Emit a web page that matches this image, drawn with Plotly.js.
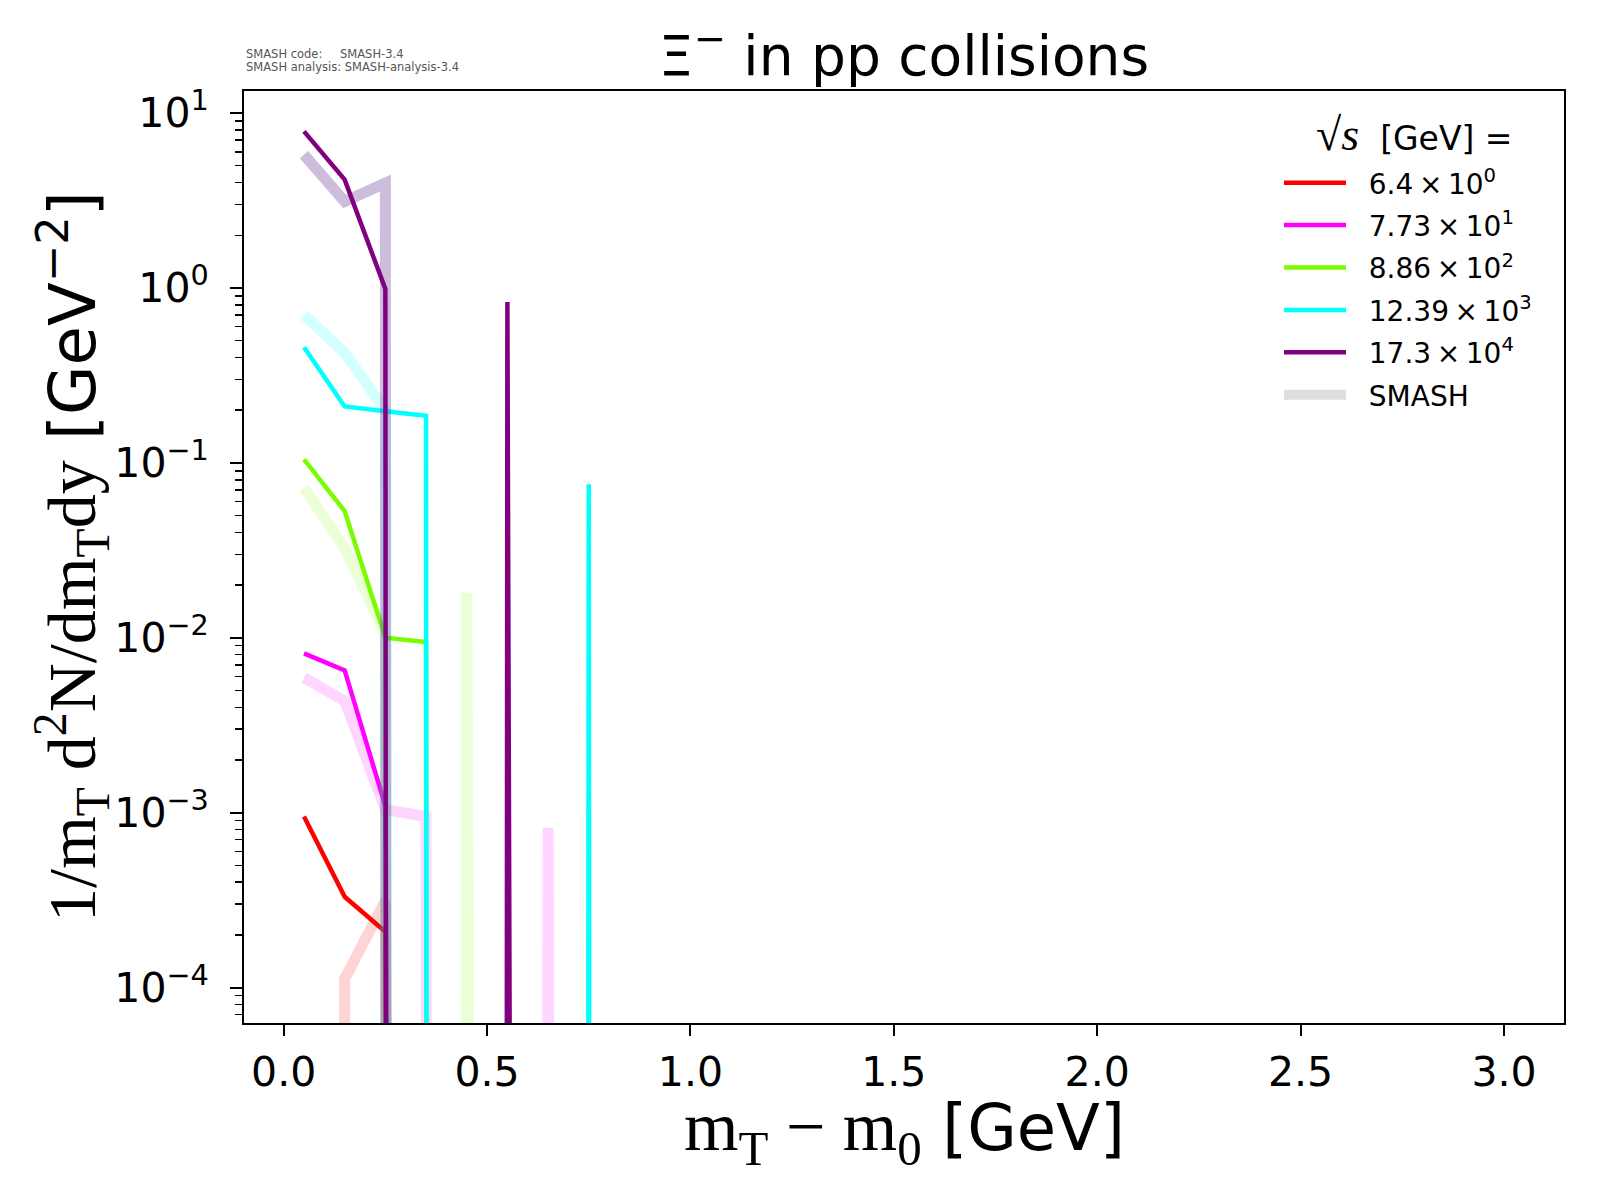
<!DOCTYPE html>
<html>
<head>
<meta charset="utf-8">
<script src="https://cdn.plot.ly/plotly-3.0.1.min.js"></script>
<style>
  body { margin: 0; background: white; }
  #chart { width: 1600px; height: 1200px; }
</style>
</head>
<body>
<div id="chart"></div>
<script>
// m_T - m_0 bin centres [GeV]
let mt = [0.05, 0.15, 0.25, 0.35, 0.45, 0.55, 0.65, 0.75, 0.85, 0.95];

let energyLabels = [
    "6.4\u2009×\u200910<sup>0</sup>",
    "7.73\u2009×\u200910<sup>1</sup>",
    "8.86\u2009×\u200910<sup>2</sup>",
    "12.39\u2009×\u200910<sup>3</sup>",
    "17.3\u2009×\u200910<sup>4</sup>"
];
let colors = ["#ff0000", "#ff00ff", "#7cfc00", "#00ffff", "#800080"];
let smashColors = ["rgba(255,0,0,0.17)", "rgba(255,0,255,0.16)", "rgba(124,252,0,0.16)",
                   "rgba(0,255,255,0.17)", "rgba(100,50,150,0.32)"];

// data (thin lines)
let data64   = [0.00095, 0.00033, 0.000208, 0, 0, 0, 0, 0, 0, 0];
let data773  = [0.00813, 0.0065, 0.00109, 0, 0, 0, 0, 0, 0, 0];
let data886  = [0.1045, 0.0529, 0.0100, 0.00944, 0, 0, 0, 0, 0, 0];
let data1239 = [0.458, 0.21, 0.197, 0.186, 0, 0, 0, 0.0753, 0, 0];
let data173  = [7.85, 4.16, 0.986, 0, 0, 0.83, 0, 0, 0, 0];

// SMASH (thick, translucent)
let smash64   = [0, 0.000112, 0.000313, 0, 0, 0, 0, 0, 0, 0];
let smash773  = [0.0059, 0.00435, 0.00104, 0.00095, 0, 0, 0.00082, 0, 0, 0];
let smash886  = [0.072, 0.0327, 0.0105, 0, 0.0181, 0, 0, 0, 0, 0];
let smash1239 = [0.70, 0.425, 0.2, 0, 0, 0, 0, 0, 0, 0];
let smash173  = [5.78, 3.12, 3.98, 0, 0, 0, 0, 0, 0, 0];

let dataSets = [data64, data773, data886, data1239, data173];
let smashSets = [smash64, smash773, smash886, smash1239, smash173];

let yTickVals = [1e-4, 1e-3, 1e-2, 1e-1, 1, 10];
let yTickText = ["10<sup>−4</sup>", "10<sup>−3</sup>", "10<sup>−2</sup>", "10<sup>−1</sup>", "10<sup>0</sup>", "10<sup>1</sup>"];
let xTickVals = [0, 0.5, 1, 1.5, 2, 2.5, 3];
let xTickText = ["0.0", "0.5", "1.0", "1.5", "2.0", "2.5", "3.0"];

// zero bins on a log axis: clip far below, like matplotlib does
function clip(arr){
    return arr.map(v => v > 0 ? v : 1e-300);
}

let gap = "\u00a0\u00a0";

let traces = [];
for(let i = 0; i < dataSets.length; i++){
    traces.push({
        x: mt, y: clip(smashSets[i]), mode: 'lines',
        line: {color: smashColors[i], width: 11},
        showlegend: false, legendgroup: 'g' + i, hoverinfo: 'skip'
    });
    traces.push({
        x: mt, y: clip(dataSets[i]), mode: 'lines',
        line: {color: colors[i], width: 4.5},
        name: gap + energyLabels[i], legendgroup: 'g' + i
    });
}
traces.push({
    x: [null], y: [null], mode: 'lines',
    line: {color: '#dedede', width: 10},
    name: gap + 'SMASH', legendgroup: 'g5'
});

let L = 244, R = 36, T = 91, B = 177;

let layout = {
    width: 1600, height: 1200,
    paper_bgcolor: 'white', plot_bgcolor: 'white',
    font: {family: 'DejaVu Sans', color: 'black'},
    margin: {l: L, r: R, t: T, b: B},
    title: {
        text: 'Ξ<sup>−</sup> in pp collisions',
        font: {size: 55, family: 'DejaVu Sans'},
        x: 0.5, xref: 'paper', xanchor: 'center',
        y: 1 - 56/1200, yref: 'container', yanchor: 'middle'
    },
    xaxis: {
        range: [-0.0975, 3.1475],
        tickmode: 'array', tickvals: xTickVals, ticktext: xTickText,
        ticks: 'outside', ticklen: 11, tickwidth: 2, tickcolor: 'black',
        ticklabelstandoff: 1,
        tickfont: {size: 41},
        showline: true, linewidth: 2, linecolor: 'black', mirror: true,
        showgrid: false, zeroline: false
    },
    yaxis: {
        type: 'log',
        range: [-4.203, 1.126],
        tickmode: 'array', tickvals: yTickVals, ticktext: yTickText,
        ticks: 'outside', ticklen: 12, tickwidth: 2, tickcolor: 'black',
        ticklabelstandoff: 13,
        tickfont: {size: 41},
        minor: {dtick: 'D1', ticks: 'outside', ticklen: 7, tickwidth: 1.5, tickcolor: 'black', showgrid: false},
        showline: true, linewidth: 2, linecolor: 'black', mirror: true,
        showgrid: false, zeroline: false
    },
    legend: {
        x: (1279 - L) / 1320, xanchor: 'left',
        y: (1023 - 158) / 932, yanchor: 'top',
        bgcolor: 'rgba(0,0,0,0)', borderwidth: 0,
        font: {size: 28, family: 'DejaVu Sans'},
        itemwidth: 62,
        tracegroupgap: 3
    },
    annotations: [
        {
            // legend heading
            text: '<span style="font-family:Liberation Serif;font-size:46px">√<i>s</i></span>  [GeV] =',
            xref: 'paper', yref: 'paper', x: (1414 - L) / 1320, y: (1023 - 134.5) / 932,
            xanchor: 'center', yanchor: 'middle', showarrow: false,
            font: {size: 33, family: 'DejaVu Sans'}
        },
        {
            text: '<span style="font-family:Liberation Serif;font-size:70px">m<sub>T</sub> − m<sub>0</sub></span> [GeV]',
            xref: 'paper', yref: 'paper', x: 0.5, y: (1023 - 1132) / 932,
            xanchor: 'center', yanchor: 'middle', showarrow: false,
            font: {size: 64, family: 'DejaVu Sans'}
        },
        {
            text: '<span style="font-family:Liberation Serif;font-size:68px">1/m<sub>T</sub> d<sup>2</sup>N/dm<sub>T</sub>dy</span> [GeV<sup>−2</sup>]',
            xref: 'paper', yref: 'paper', x: (71 - L) / 1320, y: 0.5,
            xanchor: 'center', yanchor: 'middle', textangle: -90, showarrow: false,
            font: {size: 64, family: 'DejaVu Sans'}
        },
        {
            text: 'SMASH code:', xref: 'paper', yref: 'paper',
            x: 0, y: (1023 - 54) / 932, xanchor: 'left', yanchor: 'middle', showarrow: false,
            font: {size: 11.5, color: '#555555'}
        },
        {
            text: 'SMASH-3.4', xref: 'paper', yref: 'paper',
            x: (338 - L) / 1320, y: (1023 - 54) / 932, xanchor: 'left', yanchor: 'middle', showarrow: false,
            font: {size: 11.5, color: '#555555'}
        },
        {
            text: 'SMASH analysis: SMASH-analysis-3.4', xref: 'paper', yref: 'paper',
            x: 0, y: (1023 - 67) / 932, xanchor: 'left', yanchor: 'middle', showarrow: false,
            font: {size: 11.5, color: '#555555'}
        }
    ]
};

Plotly.newPlot('chart', traces, layout, {staticPlot: true});
</script>
</body>
</html>
